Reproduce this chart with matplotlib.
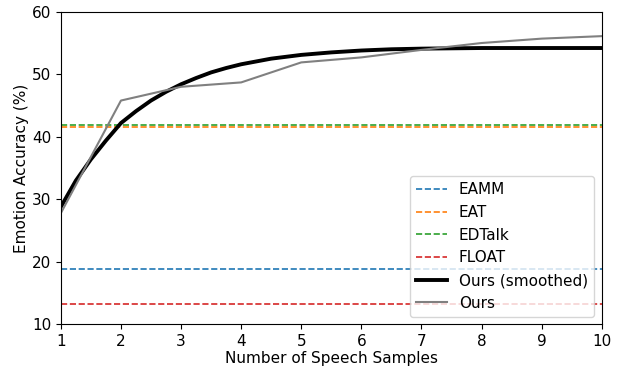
import matplotlib
matplotlib.use("Agg")
import matplotlib.pyplot as plt

# Baseline emotion accuracies (%)
baselines = ["EAMM", "EAT", "EDTalk", "FLOAT"]
baseline_acc = [18.8, 41.5, 41.9, 13.2]
baseline_colors = ["tab:blue", "tab:orange", "tab:green", "tab:red"]

# Ours, raw measurements
samples = [1, 2, 3, 4, 5, 6, 7, 8, 9, 10]
ours = [27.8, 45.8, 48.0, 48.7, 51.9, 52.7, 53.9, 55.0, 55.7, 56.1]

# Ours, smoothed curve
smooth_x = [1, 1.25, 1.5, 1.75, 2, 2.25, 2.5, 2.75, 3, 3.25, 3.5, 3.75, 4,
            4.5, 5, 5.5, 6, 6.5, 7, 8, 9, 10]
smooth_y = [28.8, 33.0, 36.4, 39.4, 42.2, 44.1, 45.8, 47.2, 48.4, 49.4, 50.3,
            51.0, 51.6, 52.5, 53.1, 53.5, 53.8, 54.0, 54.1, 54.2, 54.2, 54.2]

fig = plt.figure(figsize=(6.21, 3.67), dpi=100)
ax = fig.add_axes([0.098, 0.116, 0.871, 0.852])

for name, acc, col in zip(baselines, baseline_acc, baseline_colors):
    ax.axhline(acc, color=col, linestyle="--", linewidth=1.2, label=name)

ax.plot(smooth_x, smooth_y, color="black", linewidth=2.8, label="Ours (smoothed)")
ax.plot(samples, ours, color="gray", linewidth=1.5, label="Ours")

ax.set_xlim(1, 10)
ax.set_ylim(10, 60)
ax.set_xticks(samples)
ax.tick_params(labelsize=11)
ax.set_xlabel("Number of Speech Samples", fontsize=11, labelpad=1)
ax.set_ylabel("Emotion Accuracy (%)", fontsize=11, labelpad=2)
ax.legend(loc="lower right", fontsize=11)

fig.savefig("out.png", dpi=100)
